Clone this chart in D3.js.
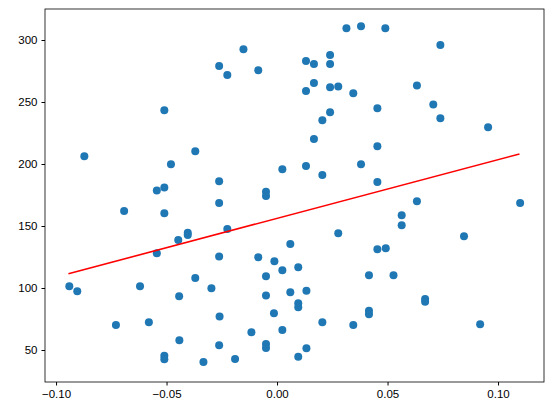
<!DOCTYPE html>
<html><head><meta charset="utf-8">
<script src="https://cdn.jsdelivr.net/npm/d3@7"></script>
<style>body{margin:0;background:#fff}svg{font-family:"DejaVu Sans",sans-serif}</style>
</head><body><svg width="552" height="413"></svg>
<script>
// scatter points
var xs = [0.0314,0.038,0.049,0.0739,-0.0152,0.0131,0.0167,0.024,0.024,-0.0262,-0.0225,-0.0085,
  0.0167,0.0131,0.024,0.0277,0.0345,0.0633,0.0707,0.0739,0.0955,0.0454,0.024,0.0205,-0.051,
  0.0167,0.0454,0.038,0.0131,0.0205,0.0454,-0.0872,-0.037,-0.048,0.0024,-0.0262,-0.0544,-0.051,
  -0.005,-0.005,-0.0692,-0.051,-0.0262,0.0633,0.110,0.0564,0.0564,0.0277,0.0846,0.006,
  0.0454,0.0492,-0.0447,-0.0404,-0.0404,-0.0225,-0.0544,-0.0262,-0.0085,-0.0012,0.0024,0.0096,
  -0.005,0.0416,0.0527,-0.094,-0.0904,-0.062,-0.0443,-0.037,-0.0297,-0.005,0.0133,0.006,
  0.0096,0.0096,0.067,0.067,-0.0729,-0.058,-0.026,-0.0014,0.0416,0.0416,0.0024,-0.0116,
  0.0205,0.0345,0.0919,-0.0442,-0.0262,-0.005,-0.005,-0.051,-0.051,-0.0333,-0.019,0.0133,0.0096];
var ys = [309.4,311,309.4,296,292.5,283,280.6,288,280.6,279,271.7,275.6,
  265.3,258.9,261.8,262.6,257,263.4,248,236.8,229.6,244.9,241.7,235.2,243.3,
  220.2,214.3,199.8,198.4,191.1,185.5,206.2,210.2,199.8,195.7,186,178.6,181,
  177.7,174.2,162.1,160.2,168.5,169.9,168.5,158.6,150.6,144.1,141.7,135.5,
  131.2,132,138.7,144.6,142.7,147.6,128,125.5,124.8,121.5,114.3,116.7,
  109.4,110.2,110.2,101.4,97.3,101.4,93.3,108,99.8,94,97.8,96.5,
  87.7,84.4,91.1,89,70.2,72.3,77.1,79.6,81.7,78.8,66.1,64.3,
  72.3,70.2,70.7,57.9,53.8,54.8,51.6,45.4,42.5,40.3,42.7,51.4,44.6];
// fitted line end points
var lineX = [-0.0944, 0.1097];
var lineY = [111.5, 208.1];
var xTicks = [-0.10, -0.05, 0.00, 0.05, 0.10];
var yTicks = [50, 100, 150, 200, 250, 300];

var L = 45, R = 544, T = 9, B = 382;
var svg = d3.select("svg");
var x = d3.scaleLinear().domain([-0.105, 0.1208]).range([L, R]);
var y = d3.scaleLinear().domain([24.2, 325]).range([B, T]);

svg.selectAll("circle").data(xs).enter().append("circle")
  .attr("cx", function(d){ return x(d); })
  .attr("cy", function(d, i){ return y(ys[i]); })
  .attr("r", 4).attr("fill", "#1f77b4");

svg.append("path")
  .attr("d", d3.line()(lineX.map(function(d, i){ return [x(d), y(lineY[i])]; })))
  .attr("stroke", "red").attr("stroke-width", 1.6).attr("fill", "none");

var fmt = function(d){ return d3.format(".2f")(d).replace("-", "\u2212"); };
var xa = svg.append("g").attr("transform", "translate(0," + B + ")")
  .call(d3.axisBottom(x).tickValues(xTicks).tickFormat(fmt).tickSizeOuter(0).tickSize(3.5).tickPadding(4));
var ya = svg.append("g").attr("transform", "translate(" + L + ",0)")
  .call(d3.axisLeft(y).tickValues(yTicks).tickSizeOuter(0).tickSize(3.5).tickPadding(4));
svg.selectAll(".tick text").attr("font-size", 11.5).attr("fill", "#000");
svg.selectAll(".domain").remove();
svg.append("rect").attr("x", L).attr("y", T).attr("width", R - L).attr("height", B - T)
  .attr("fill", "none").attr("stroke", "#000").attr("stroke-width", 0.8);
</script></body></html>
